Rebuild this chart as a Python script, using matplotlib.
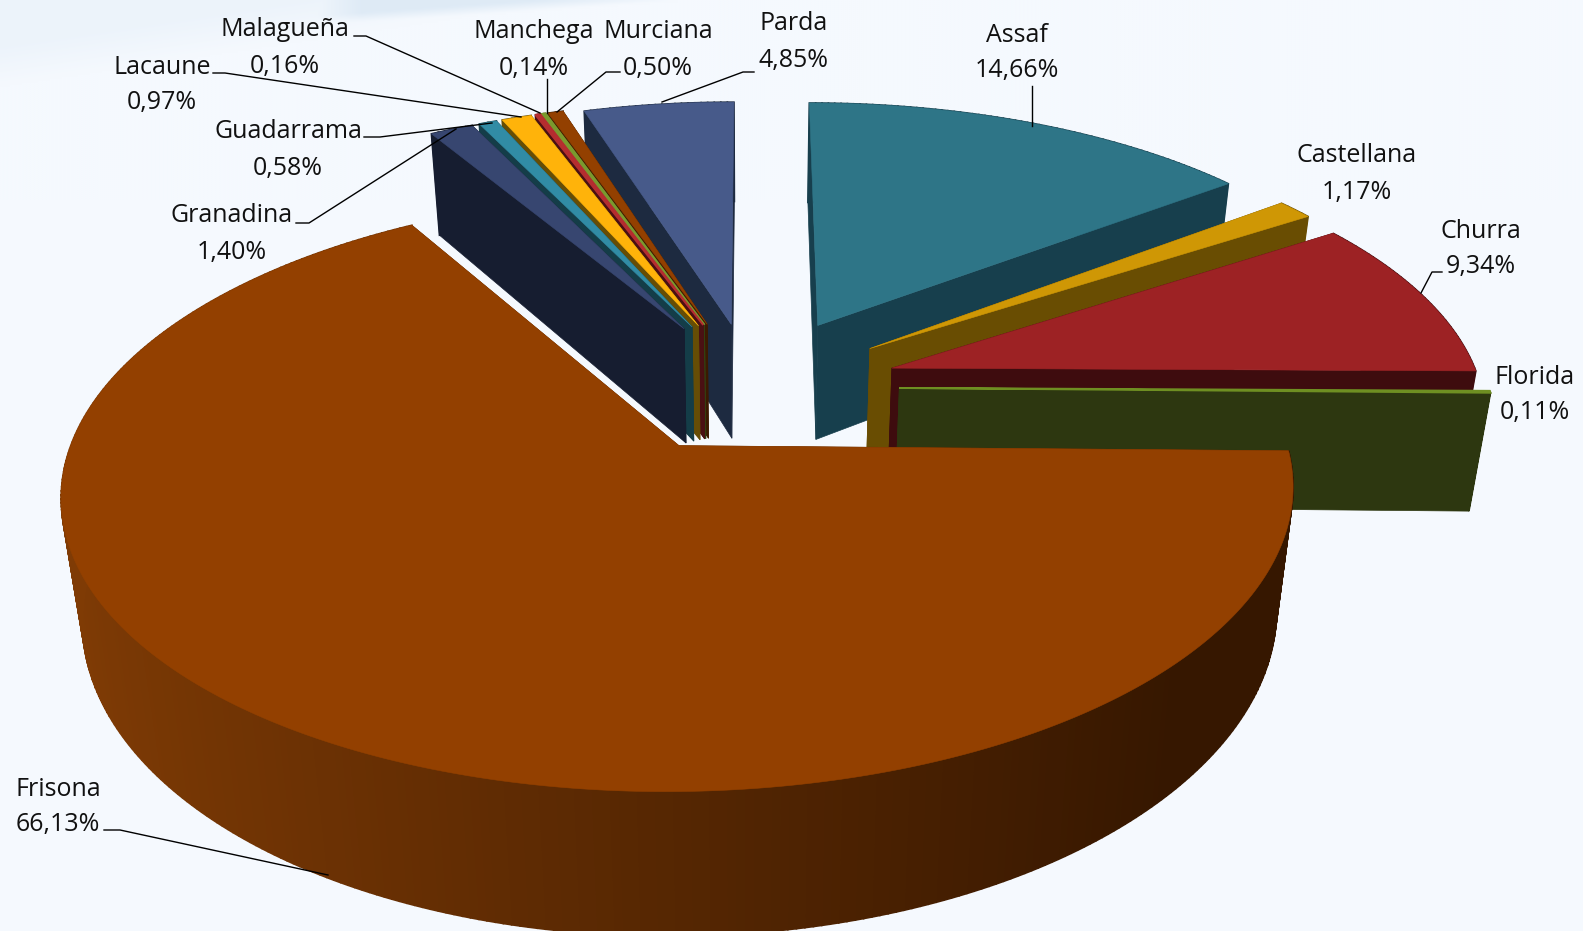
import numpy as np
import matplotlib
matplotlib.use('Agg')
import matplotlib.pyplot as plt
from matplotlib.patches import Polygon
from matplotlib.colors import to_rgb

# razas, % of total
breeds = ['Assaf', 'Castellana', 'Churra', 'Florida', 'Frisona', 'Granadina', 'Guadarrama',
          'Lacaune', 'Malagueña', 'Manchega', 'Murciana', 'Parda']
shares = [14.66, 1.17, 9.34, 0.11, 66.13, 1.40, 0.58, 0.97, 0.16, 0.14, 0.50, 4.85]

top_colors = ['#2e7587', '#cf9705', '#9d2224', '#6f8f22', '#934000', '#374670', '#318ca5',
              '#ffb30a', '#b52d2f', '#7a9a2e', '#934000', '#475a8a']
side_colors = ['#173f4d', '#694d02', '#3e0c0e', '#2d3710', '#5a2800', '#161d30', '#143d48',
               '#664d05', '#4a1013', '#333f12', '#3c1a00', '#1d2a40']
explode = [0.26, 0.25, 0.25, 0.25, 0.24, 0.25, 0.25, 0.25, 0.25, 0.25, 0.25, 0.24]
draw_order = [11, 10, 9, 8, 7, 6, 5, 0, 1, 2, 3, 4]

# text position: name line, value line (pixels)
label_pos = {
    'Assaf': (1017, 35, 71), 'Castellana': (1357, 156, 192), 'Churra': (1481, 231, 267),
    'Florida': (1535, 378, 412), 'Frisona': (58, 789, 824), 'Granadina': (232, 216, 252),
    'Guadarrama': (288, 132, 168), 'Lacaune': (162, 68, 103), 'Malagueña': (285, 30, 66),
    'Manchega': (534, 32, 69), 'Murciana': (658, 32, 69), 'Parda': (794, 24, 61),
}
leaders = [
    [(1032, 86), (1032, 126)],
    [(1442, 272), (1432, 272), (1421, 293)],
    [(104, 830), (120, 830), (328, 875)],
    [(296, 223), (309, 223), (456, 129)],
    [(364, 137), (380, 137), (492, 123)],
    [(213, 73), (225, 73), (521, 117)],
    [(354, 36), (366, 36), (540, 113)],
    [(547, 79), (547, 113)],
    [(620, 72), (606, 72), (557, 112)],
    [(754, 72), (743, 72), (662, 102)],
]

W, H = 1583, 931
CX, CY = 752, 387
A, B, D = 589, 273.5, 118
K, M = 0.152, 0.03


def project(x, y, h=0.0):
    s = 1.0 / (1.0 + K * y)
    return CX + A * x / (1.0 + K * y + M * h), CY - (B * y - D * h) * s


def mix(c1, c2, t):
    c1, c2 = np.array(to_rgb(c1)), np.array(to_rgb(c2))
    return tuple(c1 + (c2 - c1) * t)


fig = plt.figure(figsize=(W / 100, H / 100), dpi=100)
ax = fig.add_axes([0, 0, 1, 1])
ax.axis('off')

# pale streaks in the slide background
xx, yy = np.meshgrid(np.arange(0, W, 4), np.arange(0, 200, 2))
haze = 0.35 * np.clip((85 - 0.15 * xx - yy) / 40.0, 0, 1)
wisp = 0.9 * np.clip((24 - 0.07 * (xx - 330) - yy) / 10.0, 0, 1) * np.clip((xx - 300) / 60.0, 0, 1) * np.clip((760 - xx) / 100.0, 0, 1)
band = np.maximum(haze, wisp)
base, streak = np.array(to_rgb('#f5f9fe')), np.array(to_rgb('#dce9f5'))
bg = base + band[..., None] * (streak - base)
ax.add_patch(plt.Rectangle((0, 0), W, H, color='#f5f9fe', zorder=0))
ax.imshow(bg, extent=(0, W, 200, 0), zorder=0.5, aspect='auto', interpolation='bilinear')
ax.set_xlim(0, W)
ax.set_ylim(H, 0)

total = sum(shares)
edges = np.cumsum([0] + shares) / total * 2 * np.pi
z = 1
for i in draw_order:
    a0, a1 = edges[i], edges[i + 1]
    mid = (a0 + a1) / 2
    ox, oy = explode[i] * np.sin(mid), explode[i] * np.cos(mid)
    n = max(3, int((a1 - a0) * 80))
    th = np.linspace(a0, a1, n)
    rim_x, rim_y = ox + np.sin(th), oy + np.cos(th)

    # flat faces running in from the rim
    for ang in (a0, a1):
        ex, ey = ox + np.sin(ang), oy + np.cos(ang)
        face = [project(ox, oy), project(ex, ey), project(ex, ey, 1), project(ox, oy, 1)]
        ax.add_patch(Polygon(face, closed=True, fc=side_colors[i], ec=side_colors[i], lw=0.5, zorder=z))
    z += 1

    # rim, shaded strip by strip
    for j in range(n - 1):
        strip = [project(rim_x[j], rim_y[j]), project(rim_x[j + 1], rim_y[j + 1]),
                 project(rim_x[j + 1], rim_y[j + 1], 1), project(rim_x[j], rim_y[j], 1)]
        if breeds[i] == 'Frisona':
            col = mix('#7f3b05', '#361700', np.clip((np.sin(th[j]) + 0.95) / 1.7, 0, 1))
        else:
            col = side_colors[i]
        ax.add_patch(Polygon(strip, closed=True, fc=col, ec=col, lw=1.2, zorder=z))
    z += 1

    top = [project(ox, oy)] + [project(a, b) for a, b in zip(rim_x, rim_y)]
    ax.add_patch(Polygon(top, closed=True, fc=top_colors[i], ec=top_colors[i],
                         lw=1.4 if shares[i] < 0.2 else 0.4, zorder=z))
    z += 1

for pts in leaders:
    ax.plot([p[0] for p in pts], [p[1] for p in pts], color='black', lw=1.0, zorder=z)

for name, val in zip(breeds, shares):
    x, y1, y2 = label_pos[name]
    ax.text(x, y1, name, ha='center', va='center', fontsize=18, family='Open Sans', color='#111111', zorder=z + 1)
    ax.text(x, y2, ('%.2f%%' % val).replace('.', ','), ha='center', va='center', fontsize=18,
            family='Open Sans', color='#111111', zorder=z + 1)

fig.savefig('out.png', dpi=100)
